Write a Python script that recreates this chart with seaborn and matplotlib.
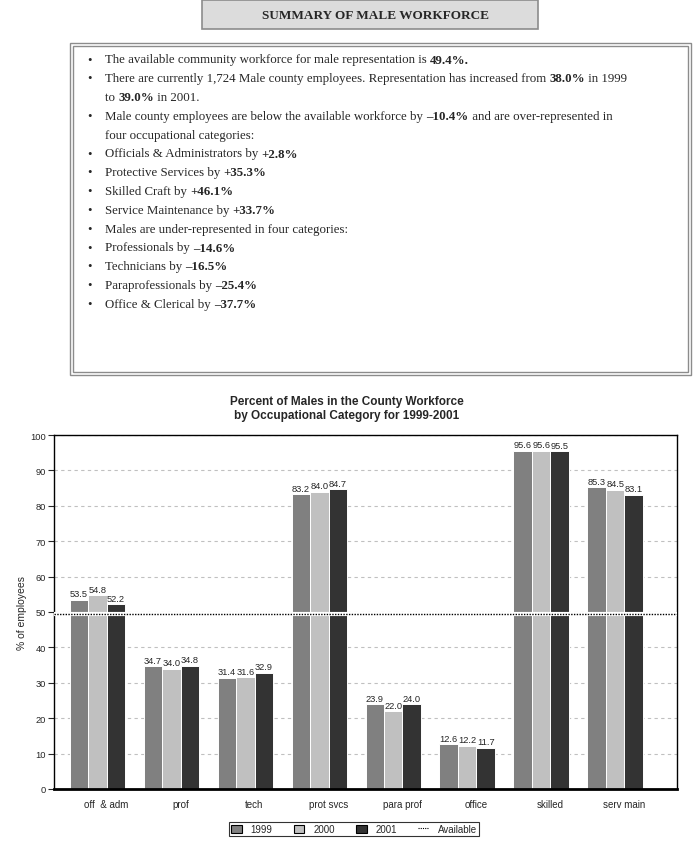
import matplotlib
matplotlib.use("Agg")
import matplotlib.pyplot as plt
import seaborn as sns
import pandas as pd
from matplotlib.patches import Rectangle, Patch
from matplotlib.lines import Line2D

# ---------------- data ----------------
categories = ["off  & adm", "prof", "tech", "prot svcs", "para prof", "office", "skilled", "serv main"]
years = ["1999", "2000", "2001"]
v1999 = [53.5, 34.7, 31.4, 83.2, 23.9, 12.6, 95.6, 85.3]
v2000 = [54.8, 34.0, 31.6, 84.0, 22.0, 12.2, 95.6, 84.5]
v2001 = [52.2, 34.8, 32.9, 84.7, 24.0, 11.7, 95.5, 83.1]
available = 49.4
y_ticks = [0, 10, 20, 30, 40, 50, 60, 70, 80, 90, 100]
legend_labels = ["1999", "2000", "2001", "Available"]

summary_title = "SUMMARY OF MALE WORKFORCE"
chart_title = "Percent of Males in the County Workforce\nby Occupational Category for 1999-2001"
y_label = "% of employees"

bullets = [
    [[("The available community workforce for male representation is ", False), ("49.4%.", True)]],
    [[("There are currently 1,724 Male county employees. Representation has increased from ", False),
      ("38.0%", True), (" in 1999", False)],
     [("to ", False), ("39.0%", True), (" in 2001.", False)]],
    [[("Male county employees are below the available workforce by ", False), ("\u201310.4%", True),
      (" and are over-represented in", False)],
     [("four occupational categories:", False)]],
    [[("Officials & Administrators by ", False), ("+2.8%", True)]],
    [[("Protective Services by ", False), ("+35.3%", True)]],
    [[("Skilled Craft by ", False), ("+46.1%", True)]],
    [[("Service Maintenance by ", False), ("+33.7%", True)]],
    [[("Males are under-represented in four categories:", False)]],
    [[("Professionals by ", False), ("\u201314.6%", True)]],
    [[("Technicians by ", False), ("\u201316.5%", True)]],
    [[("Paraprofessionals by ", False), ("\u201325.4%", True)]],
    [[("Office & Clerical by ", False), ("\u201337.7%", True)]],
]

colors = {"1999": "#808080", "2000": "#c0c0c0", "2001": "#333333", "Available": "#000000"}

# ---------------- figure ----------------
sns.set_style("white")
plt.rcParams["font.family"] = ["Liberation Sans", "DejaVu Sans"]

W, H = 695, 845
fig = plt.figure(figsize=(W / 100, H / 100), dpi=100)


def fx(x):
    return x / W


def fy(y):
    return 1 - y / H


# Title box
fig.patches.append(Rectangle((fx(202), fy(30)), fx(538) - fx(202), fy(1) - fy(30),
                             transform=fig.transFigure, facecolor="#dcdcdc",
                             edgecolor="#8c8c8c", linewidth=1.2))
fig.text(fx(375), fy(16), summary_title, ha="center", va="center",
         fontsize=9.5, fontweight="bold", family=["Liberation Serif", "DejaVu Serif"])

# Text box (double border)
fig.patches.append(Rectangle((fx(70), fy(376)), fx(691) - fx(70), fy(44) - fy(376),
                             transform=fig.transFigure, facecolor="white",
                             edgecolor="#8c8c8c", linewidth=1.0))
fig.patches.append(Rectangle((fx(73), fy(373)), fx(688) - fx(73), fy(47) - fy(373),
                             transform=fig.transFigure, facecolor="none",
                             edgecolor="#8c8c8c", linewidth=1.0))

renderer = fig.canvas.get_renderer()
serif = ["Liberation Serif", "DejaVu Serif"]
y = 60.5
for item in bullets:
    fig.text(fx(90), fy(y), "\u2022", ha="center", va="center", fontsize=9, family=serif)
    for line in item:
        x = fx(105)
        for txt, bold in line:
            t = fig.text(x, fy(y), txt, ha="left", va="center", fontsize=9.3, family=serif,
                         fontweight="bold" if bold else "normal")
            bb = t.get_window_extent(renderer)
            x = bb.x1 / fig.bbox.width
        y += 18.8

# ---------------- chart ----------------
ax = fig.add_axes([fx(54), fy(790), fx(677) - fx(54), fy(436) - fy(790)])

df = pd.DataFrame({
    "category": categories * 3,
    "year": [yr for yr in years for _ in categories],
    "value": v1999 + v2000 + v2001,
})

sns.barplot(data=df, x="category", y="value", hue="year", order=categories,
            hue_order=legend_labels, palette=colors, width=1.0, saturation=1,
            edgecolor="white", linewidth=0.7, errorbar=None, legend=False, ax=ax)

for cont in ax.containers:
    ax.bar_label(cont, fmt="%.1f", fontsize=6.7, padding=1)

ax.set_xlim(-0.71, len(categories) - 1 + 0.71)
ax.set_ylim(0, 100)
ax.set_yticks(y_ticks)
ax.yaxis.grid(True, linestyle=(0, (3, 3)), color="#c0c0c0", linewidth=0.8)
ax.set_axisbelow(True)

ax.axhline(available, color="white", linewidth=3, zorder=3)
ax.axhline(available, color="black", linewidth=1, linestyle=(0, (1, 1)), zorder=4)

for s in ax.spines.values():
    s.set_color("black")
    s.set_linewidth(1.0)
    s.set_visible(True)
ax.spines["bottom"].set_linewidth(2.0)

ax.tick_params(axis="y", length=4, width=0.8, labelsize=6.7, left=True, direction="out", pad=2)
ax.tick_params(axis="x", length=0, labelsize=7, pad=7)
ax.set_xlabel("")
ax.set_ylabel(y_label, fontsize=7.5, labelpad=2)

fig.suptitle(chart_title, x=fx(347), y=fy(396), fontsize=8.5, fontweight="bold", va="top",
             linespacing=1.2)

handles = [Patch(facecolor=colors[yr], edgecolor="black", linewidth=0.8) for yr in years]
handles.append(Line2D([], [], color="black", linestyle=(0, (1, 1)), linewidth=0.8))
leg = fig.legend(handles, legend_labels, loc="center", bbox_to_anchor=(fx(354), fy(830)),
                 ncol=4, frameon=True, fancybox=False, edgecolor="black", fontsize=7,
                 handlelength=1.1, handleheight=0.9, columnspacing=2.2, borderpad=0.25,
                 handletextpad=0.9)
leg.get_frame().set_linewidth(0.8)

fig.savefig("out.png", dpi=100)
